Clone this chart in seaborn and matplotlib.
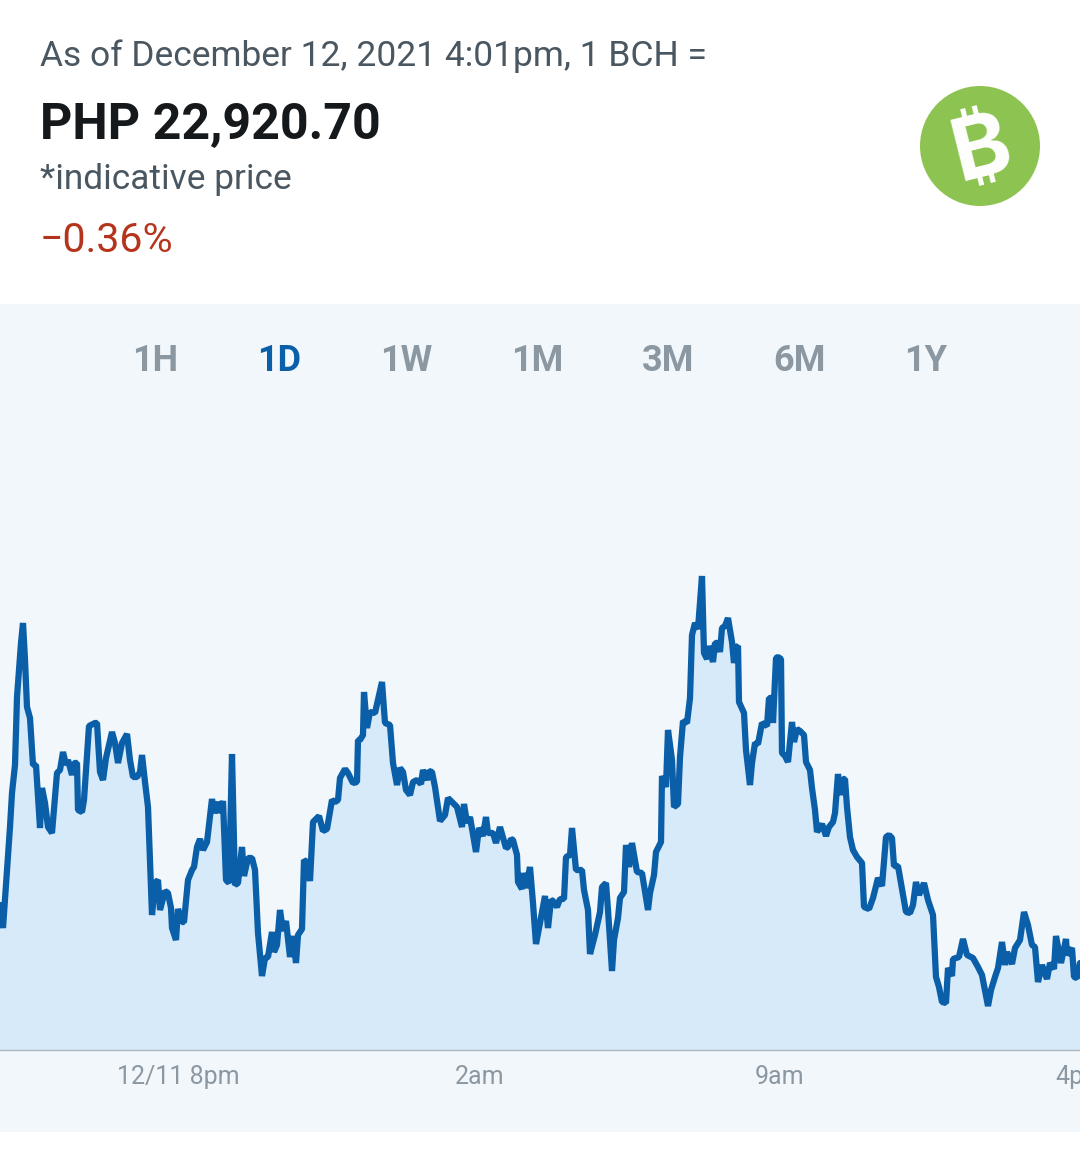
import matplotlib
matplotlib.use('Agg')
import matplotlib.pyplot as plt
import seaborn as sns
from matplotlib.patches import Circle, Rectangle

# values: time on the chart's own scale, price above the chart floor
times = [0, 3, 6, 10, 12, 15, 17, 21, 23, 25, 27, 30, 33, 36, 40, 42, 45, 48, 52, 57, 60, 63, 66, 68, 72, 74, 77, 78, 82, 84,
         89, 95, 97, 100, 103, 106, 112, 115, 118, 122, 127, 130, 133, 137, 140, 142, 145, 148, 152, 155, 158, 160, 165, 168,
         171, 172, 176, 178, 182, 184, 188, 192, 194, 197, 200, 203, 207, 212, 214, 218, 220, 223, 226, 229, 232, 235, 238,
         242, 244, 248, 252, 255, 258, 262, 265, 268, 272, 274, 277, 280, 283, 286, 290, 293, 296, 298, 302, 304, 307, 310,
         313, 319, 323, 327, 332, 335, 338, 340, 345, 348, 353, 357, 358,
         360, 363, 364, 367, 370, 375, 382, 385, 390, 393, 397, 400, 403, 406, 410, 413, 417, 421, 423, 427, 429, 432, 435,
         440, 445, 448, 457, 462, 464, 467, 470, 476, 479, 483, 486, 488, 493, 496, 500, 506, 508, 511, 513, 517, 518, 522,
         523, 526, 530, 533, 536, 540, 545, 548, 551, 553, 557, 560, 564, 566, 570, 572, 576, 582, 584, 588, 590, 595, 600,
         602, 606, 608, 612, 614, 618, 620, 624, 626, 629, 632, 637, 642, 648, 650, 654, 656, 661, 662, 666, 668, 672, 674,
         678, 680, 683, 687, 690, 692, 695, 698, 702, 704, 707, 709, 713, 715, 718,
         720, 722, 725, 728, 732, 734, 736, 738, 739, 744, 746, 750, 752, 755, 758, 762, 767, 769, 772, 773, 776, 778, 781,
         782, 785, 788, 792, 794, 797, 800, 804, 806, 810, 812, 815, 817, 822, 826, 829, 833, 835, 838, 840, 843, 845, 847,
         850, 853, 857, 862, 864, 869, 873, 878, 882, 886, 889, 892, 894, 898, 903, 906, 910, 913, 916, 919, 924, 928, 933,
         936, 939, 942, 946, 948, 952, 953, 959, 963, 967, 973, 978, 982, 988, 991, 995, 998, 1002, 1005, 1007, 1012, 1015,
         1020, 1024, 1028, 1032, 1035, 1038, 1042, 1047, 1050, 1054, 1056, 1061, 1066, 1067, 1072, 1074, 1077, 1080]
prices = [145, 122, 165, 223, 257, 285, 353, 407, 427, 390, 343, 332, 285, 285, 222, 262, 247, 223, 217, 277, 280, 298, 285,
          290, 275, 287, 287, 240, 238, 250, 324, 327, 327, 278, 270, 292, 318, 307, 287, 307, 316, 290, 273, 273, 278, 295,
          268, 243, 135, 167, 170, 140, 159, 157, 142, 122, 110, 141, 128, 128, 170, 180, 183, 203, 211, 200, 208, 251, 237,
          248, 237, 249, 170, 167, 296, 165, 167, 203, 174, 192, 192, 180, 117, 74, 92, 93, 118, 98, 105, 140, 119, 129, 93,
          114, 87, 115, 121, 190, 188, 169, 228, 234, 219, 221, 250, 248, 250, 272, 281, 277, 267, 268, 310,
          310, 315, 358, 322, 338, 337, 368, 327, 325, 287, 265, 282, 278, 260, 255, 268, 270, 266, 280, 270, 279, 278, 263,
          229, 235, 252, 243, 223, 246, 227, 233, 198, 222, 214, 233, 217, 217, 207, 223, 202, 203, 211, 210, 195, 168, 161,
          177, 162, 183, 147, 106, 127, 154, 122, 150, 149, 143, 151, 151, 193, 195, 222, 180, 180, 160, 140, 96, 115, 138,
          163, 167, 140, 79, 110, 132, 152, 158, 205, 183, 207, 178, 177, 140, 157, 175, 198, 208, 274, 263, 320, 290, 243,
          246, 293, 329, 327, 352, 415, 427, 421, 474, 397, 391, 404, 388, 407, 407,
          398, 422, 424, 432, 408, 387, 403, 404, 348, 337, 300, 265, 287, 307, 306, 327, 324, 352, 352, 327, 392, 393, 391,
          297, 294, 288, 328, 308, 321, 319, 315, 288, 280, 262, 240, 218, 226, 214, 223, 228, 237, 276, 255, 271, 271, 243,
          213, 200, 193, 187, 143, 141, 152, 172, 164, 213, 215, 212, 184, 184, 155, 138, 137, 145, 168, 155, 167, 150, 135,
          73, 63, 48, 47, 82, 74, 91, 93, 111, 95, 92, 83, 75, 44, 60, 73, 82, 108, 85, 98, 86, 102,
          110, 138, 125, 105, 103, 68, 85, 71, 87, 81, 114, 87, 111, 95, 102, 73, 72, 87]

tick_times = [178, 480, 780, 1080]
tick_labels = ['12/11 8pm', '2am', '9am', '4pm']
tabs = ['1H', '1D', '1W', '1M', '3M', '6M', '1Y']
tab_centers = [155, 279, 406, 537, 668, 799, 926]

panel_color = '#f2f7fb'
line_color = '#0a5fa8'
fill_color = '#d6eaf9'
text_color = '#4a5761'
grey_color = '#8b98a2'

sns.set_theme(style='white')
plt.rcParams['font.family'] = ['Roboto', 'DejaVu Sans']

fig = plt.figure(figsize=(10.8, 11.65), dpi=100, facecolor='white')

# whole-figure layer for the header, the tabs and the logo, in pixels from the top
page = fig.add_axes([0, 0, 1, 1])
page.set_xlim(0, 1080)
page.set_ylim(1165, 0)
page.axis('off')
page.add_patch(Rectangle((0, 304), 1080, 828, facecolor=panel_color, edgecolor='none'))

page.text(40, 56, 'As of December 12, 2021 4:01pm, 1 BCH =', fontsize=25.5, color=text_color, va='center')
page.text(40, 125, 'PHP 22,920.70', fontsize=36.1, fontweight='bold', color='#15191c', va='center')
page.text(40, 180, '*indicative price', fontsize=25.4, color=text_color, va='center')
page.text(40, 241, '\u22120.36%', fontsize=29.6, color='#b5351c', va='center')

page.add_patch(Circle((980, 146), 60, facecolor='#8dc351', edgecolor='none'))
page.text(982, 152, '\u20bf', fontsize=63, fontweight='bold', color='white', rotation=14,
          ha='center', va='center', family=['Inter', 'Noto Sans', 'Lato', 'Open Sans', 'Liberation Sans', 'DejaVu Sans'])

for tab, center in zip(tabs, tab_centers):
    color = line_color if tab == '1D' else grey_color
    page.text(center, 361, tab, fontsize=26, fontweight='bold', color=color, ha='center', va='center')

# the chart itself, floor at y=1050 and top of the panel at y=304
ax = fig.add_axes([0, (1165 - 1050) / 1165, 1, (1050 - 304) / 1165])
ax.patch.set_alpha(0)
ax.fill_between(times, prices, 0, color=fill_color, linewidth=0)
sns.lineplot(x=times, y=prices, ax=ax, color=line_color, linewidth=4.5, estimator=None, sort=False,
             solid_joinstyle='bevel')
ax.set_xlim(0, 1080)
ax.set_ylim(0, 746)
ax.set_yticks([])
ax.set_xticks(tick_times)
ax.set_xticklabels(tick_labels, fontsize=18, color=grey_color)
ax.tick_params(axis='x', length=0, pad=11)
sns.despine(ax=ax, left=True)
ax.spines['bottom'].set_color('#aeb7bd')
ax.spines['bottom'].set_linewidth(1)

fig.savefig('out.png', dpi=100)
plt.close(fig)
